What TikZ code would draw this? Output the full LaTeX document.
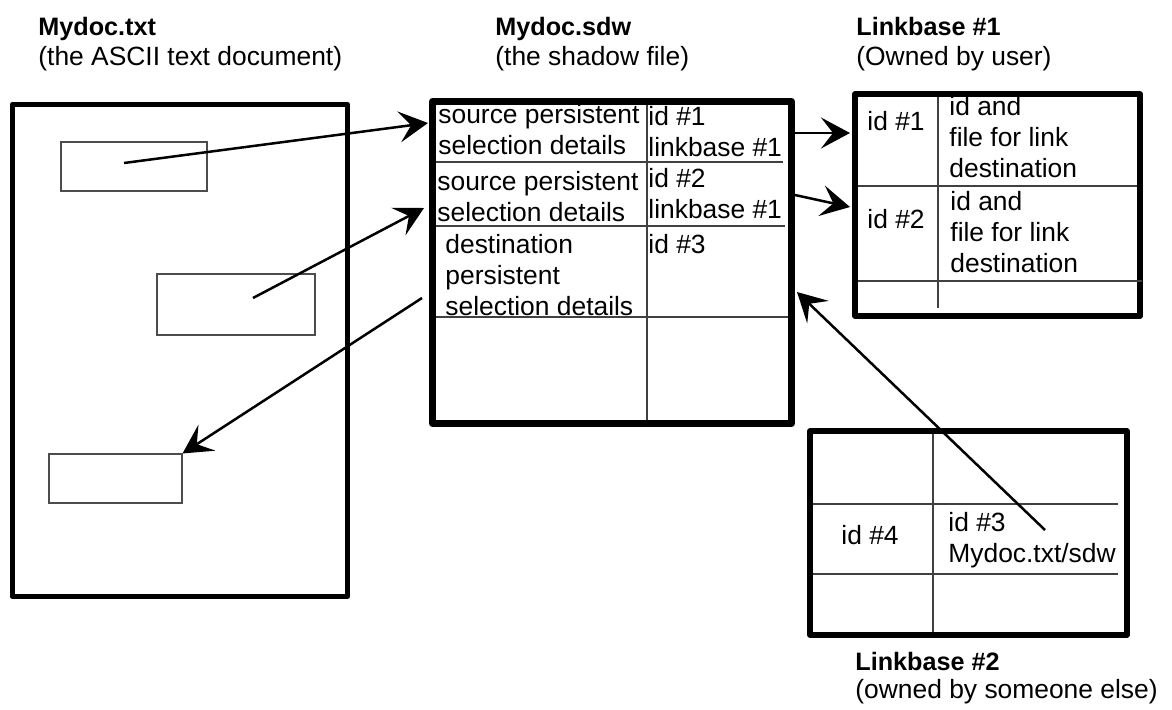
\documentclass[tikz,border=0pt]{standalone}
\usepackage{fontspec}
\setmainfont{Liberation Sans}
\usetikzlibrary{arrows.meta}

\begin{document}
\begin{tikzpicture}[x=0.5pt,y=-0.5pt,
  heavy/.style={line width=2.6pt, line join=round},
  heavier/.style={line width=3.5pt, line join=round},
  rule/.style={line width=0.55pt, draw=black!75},
  selbox/.style={draw=black!70, line width=0.55pt, rectangle, inner sep=0pt},
  link/.style={line width=1.25pt, -{Stealth[length=14.5pt,width=15.5pt,inset=6pt]}},
  % multi-line blocks are placed by the baseline of their last line
  txt/.style={inner sep=0pt, anchor=base west, align=left,
              font=\fontsize{13.2}{15.5}\selectfont},
  title/.style={inner sep=0pt, anchor=base west,
                font=\fontsize{12.6}{15}\selectfont\bfseries},
  subtitle/.style={inner sep=0pt, anchor=base west,
                   font=\fontsize{13.2}{15.5}\selectfont},
]
\useasboundingbox (0,0) rectangle (1172,709);

% ---- headings ----
\node[title]    (t1)  at (38,35)  {Mydoc.txt};
\node[subtitle] (t1s) at (38,65)  {(the ASCII text document)};
\node[title]    (t2)  at (495,35) {Mydoc.sdw};
\node[subtitle] (t2s) at (495,65) {(the shadow file)};
\node[title]    (t3)  at (856,35) {Linkbase \#1};
\node[subtitle] (t3s) at (856,65) {(Owned by user)};
\node[title]    (t4)  at (855,670) {Linkbase \#2};
\node[subtitle] (t4s) at (855,698) {(owned by someone else)};

% ---- the text document with its selections ----
\draw[heavy] (12.5,104.5) rectangle (347.5,596.5);
\node[selbox, minimum width=73pt, minimum height=24.5pt] (s1) at (134,166.5) {};
\node[selbox, minimum width=79pt, minimum height=30.5pt] (s2) at (236,304.5) {};
\node[selbox, minimum width=66.5pt, minimum height=24.5pt] (s3) at (115.5,478.5) {};

% ---- the shadow file ----
\draw[heavier] (432.5,101.5) rectangle (791.5,423.5);
\draw[rule] (647,105) -- (647,420);
\draw[rule] (436,162) -- (783,162);
\draw[rule] (436,226) -- (785,226);
\draw[rule] (436,317) -- (788,317);
\node[txt] (r1a) at (438,154) {source persistent\\selection details};
\node[txt] (r1b) at (648,156) {id \#1\\linkbase \#1};
\node[txt] (r2a) at (437,221) {source persistent\\selection details};
\node[txt] (r2b) at (648,218) {id \#2\\linkbase \#1};
\node[txt] (r3a) at (445,315) {destination\\persistent\\selection details};
\node[txt] (r3b) at (648,253) {id \#3};

% ---- linkbase 1 ----
\draw[heavy] (855,94) rectangle (1140,316);
\draw[rule] (938,97) -- (938,308);
\draw[rule] (858,186) -- (1137,186);
\draw[rule] (858,281) -- (1142,281);
\node[txt] (l1a) at (867,130) {id \#1};
\node[txt] (l1b) at (949,177) {id and\\file for link\\destination};
\node[txt] (l2a) at (867,228) {id \#2};
\node[txt] (l2b) at (950,272) {id and\\file for link\\destination};

% ---- linkbase 2 ----
\draw[heavy] (810,431) rectangle (1127,635);
\draw[rule] (933,434) -- (933,632);
\draw[rule] (813,504) -- (1118,504);
\draw[rule] (813,574) -- (1118,574);
\node[txt] (k1a) at (841,544) {id \#4};
\node[txt] (k1b) at (948,562) {id \#3\\Mydoc.txt/sdw};

% ---- connector ends ----
\coordinate (a1s) at (124,163);
\coordinate (a1e) at (428,123);
\coordinate (a2s) at (253,298);
\coordinate (a2e) at (424,208);
\coordinate (a3s) at (422,298);
\coordinate (a4s) at (795,133);
\coordinate (a4e) at (850,133);
\coordinate (a5s) at (795,195);
\coordinate (a5e) at (850,207);
\coordinate (a6s) at (1045,530);
\coordinate (a6e) at (797,292);

% ---- links ----
\draw[link] (a1s) -- (a1e);
\draw[link] (a2s) -- (a2e);
\draw[link] (a3s) -- (s3.north east);
\draw[link] (a4s) -- (a4e);
\draw[link] (a5s) -- (a5e);
\draw[link] (a6s) -- (a6e);
\end{tikzpicture}
\end{document}
